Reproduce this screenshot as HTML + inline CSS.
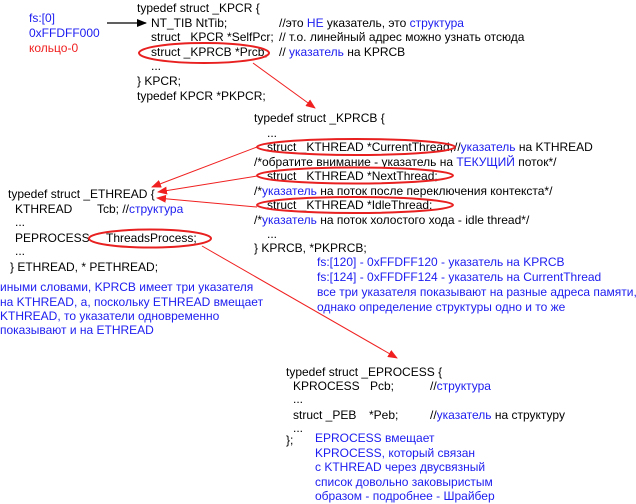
<!DOCTYPE html>
<html><head><meta charset="utf-8"><style>
html,body{margin:0;padding:0;background:#fff;}
svg{display:block;}
text{font-family:"Liberation Sans",Arial,sans-serif;font-size:12px;fill:#000;}
.b{fill:#1c1cf0;}
.r{fill:#f02020;}
</style></head><body>
<svg width="636" height="504" viewBox="0 0 636 504" xmlns="http://www.w3.org/2000/svg">
<defs>
<marker id="ar" markerWidth="10" markerHeight="8" refX="9" refY="4" orient="auto" markerUnits="userSpaceOnUse"><path d="M0,0 L10,4 L0,8 z" fill="#f02020"/></marker>
<marker id="ak" markerWidth="10" markerHeight="8" refX="9" refY="4" orient="auto" markerUnits="userSpaceOnUse"><path d="M0,0 L10,4 L0,8 z" fill="#000"/></marker>
</defs>
<!-- left top -->
<text x="29" y="22" class="b">fs:[0]</text>
<text x="29" y="37" class="b">0xFFDFF000</text>
<text x="29" y="52" class="r">кольцо-0</text>
<line x1="107" y1="23" x2="146" y2="23" stroke="#000" stroke-width="1.2" marker-end="url(#ak)"/>
<!-- KPCR -->
<text x="137" y="12">typedef struct _KPCR {</text>
<text x="151" y="27">NT_TIB  NtTib;</text>
<text x="279" y="27">//это <tspan class="b">НЕ</tspan> указатель, это <tspan class="b">структура</tspan></text>
<text x="151" y="41">struct _KPCR *SelfPcr;</text>
<text x="279" y="41">// т.о. линейный адрес можно узнать отсюда</text>
<text x="151" y="56">struct _KPRCB *Prcb;</text>
<text x="279" y="56">// <tspan class="b">указатель</tspan> на KPRCB</text>
<text x="151" y="70">...</text>
<text x="137" y="85">} KPCR;</text>
<text x="137" y="100">typedef KPCR *PKPCR;</text>
<ellipse cx="204" cy="53" rx="65" ry="10" fill="none" stroke="#e82020" stroke-width="2"/>
<line x1="253" y1="63" x2="315" y2="108" stroke="#f02020" stroke-width="1" marker-end="url(#ar)"/>
<!-- KPRCB -->
<text x="254" y="122">typedef struct _KPRCB {</text>
<text x="267" y="137">...</text>
<text x="267" y="151">struct _KTHREAD *CurrentThread;</text>
<text x="454" y="151">//<tspan class="b">указатель</tspan> на KTHREAD</text>
<text x="254" y="166">/*обратите внимание - указатель на <tspan class="b">ТЕКУЩИЙ</tspan> поток*/</text>
<text x="267" y="180">struct _KTHREAD *NextThread;</text>
<text x="254" y="195">/*<tspan class="b">указатель</tspan> на поток после переключения контекста*/</text>
<text x="267" y="209">struct _KTHREAD *IdleThread;</text>
<text x="254" y="224">/*<tspan class="b">указатель</tspan> на поток холостого хода - idle thread*/</text>
<text x="267" y="238">...</text>
<text x="254" y="252">} KPRCB, *PKPRCB;</text>
<text x="317" y="266" class="b">fs:[120] - 0xFFDFF120 - указатель на KPRCB</text>
<text x="317" y="281" class="b">fs:[124] - 0xFFDFF124 - указатель на CurrentThread</text>
<text x="317" y="296" class="b">все три указателя показывают на разные адреса памяти,</text>
<text x="317" y="311" class="b">однако определение структуры одно и то же</text>
<ellipse cx="356" cy="147" rx="99" ry="8" fill="none" stroke="#e82020" stroke-width="2"/>
<ellipse cx="355" cy="175.5" rx="98" ry="8" fill="none" stroke="#e82020" stroke-width="2"/>
<ellipse cx="355" cy="205" rx="98" ry="8" fill="none" stroke="#e82020" stroke-width="2"/>
<line x1="257" y1="147" x2="152" y2="187" stroke="#f02020" stroke-width="1" marker-end="url(#ar)"/>
<line x1="257" y1="176" x2="158" y2="192" stroke="#f02020" stroke-width="1" marker-end="url(#ar)"/>
<line x1="257" y1="207" x2="157" y2="198" stroke="#f02020" stroke-width="1" marker-end="url(#ar)"/>
<!-- ETHREAD -->
<text x="8" y="198">typedef struct _ETHREAD {</text>
<text x="15" y="213">KTHREAD</text>
<text x="97" y="213">Tcb; //<tspan class="b">структура</tspan></text>
<text x="15" y="226">...</text>
<text x="15" y="242">PEPROCESS</text>
<text x="106" y="242">ThreadsProcess;</text>
<text x="15" y="255">...</text>
<text x="10" y="271">} ETHREAD, * PETHREAD;</text>
<text x="0" y="291" class="b">иными словами, KPRCB имеет три указателя</text>
<text x="0" y="306" class="b">на KTHREAD, а, поскольку ETHREAD вмещает</text>
<text x="0" y="320" class="b">KTHREAD, то указатели одновременно</text>
<text x="0" y="334" class="b">показывают и на ETHREAD</text>
<ellipse cx="150" cy="238.5" rx="61" ry="9" fill="none" stroke="#e82020" stroke-width="2"/>
<line x1="202" y1="246" x2="397" y2="358" stroke="#f02020" stroke-width="1" marker-end="url(#ar)"/>
<!-- EPROCESS -->
<text x="286" y="376">typedef struct _EPROCESS {</text>
<text x="293" y="390">KPROCESS</text>
<text x="370" y="390">Pcb;</text>
<text x="430" y="390">//<tspan class="b">структура</tspan></text>
<text x="293" y="403">...</text>
<text x="293" y="419">struct _PEB</text>
<text x="369" y="419">*Peb;</text>
<text x="430" y="419">//<tspan class="b">указатель</tspan> на структуру</text>
<text x="293" y="432">...</text>
<text x="286" y="444">};</text>
<text x="315" y="442" class="b">EPROCESS вмещает</text>
<text x="315" y="457" class="b">KPROCESS, который связан</text>
<text x="315" y="471" class="b">с KTHREAD через двусвязный</text>
<text x="315" y="486" class="b">список довольно заковыристым</text>
<text x="315" y="500" class="b">образом - подробнее - Шрайбер</text>
</svg>
</body></html>
